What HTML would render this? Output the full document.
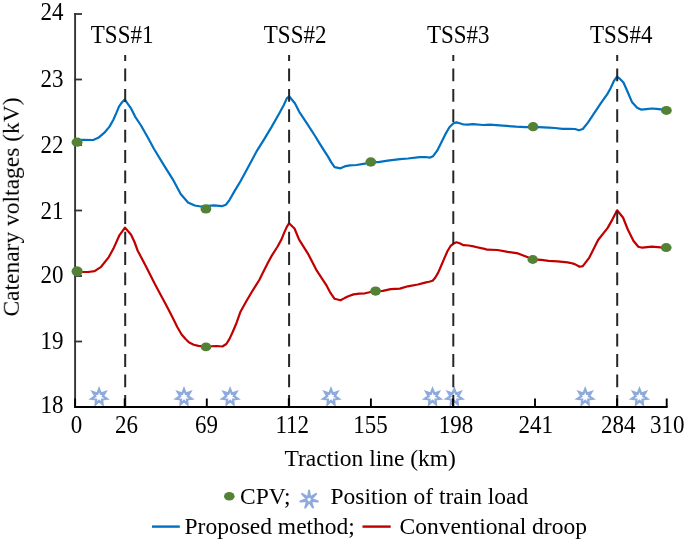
<!DOCTYPE html>
<html><head><meta charset="utf-8"><title>Catenary voltages chart</title>
<style>html,body{margin:0;padding:0;background:#fff;}body{width:685px;height:541px;overflow:hidden;font-family:"Liberation Serif",serif;}svg{display:block;}</style>
</head><body>
<svg width="685" height="541" viewBox="0 0 685 541">
<rect width="685" height="541" fill="#fff"/>
<path d="M99.10,389.10 L100.79,393.49 L105.28,392.07 L102.90,396.13 L106.80,398.76 L102.15,399.43 L102.53,404.12 L99.10,400.90 L95.67,404.12 L96.05,399.43 L91.40,398.76 L95.30,396.13 L92.92,392.07 L97.41,393.49 Z" fill="#fff" stroke="#8eaadc" stroke-width="2.3" stroke-linejoin="miter" stroke-miterlimit="10"/>
<path d="M184.00,389.10 L185.69,393.49 L190.18,392.07 L187.80,396.13 L191.70,398.76 L187.05,399.43 L187.43,404.12 L184.00,400.90 L180.57,404.12 L180.95,399.43 L176.30,398.76 L180.20,396.13 L177.82,392.07 L182.31,393.49 Z" fill="#fff" stroke="#8eaadc" stroke-width="2.3" stroke-linejoin="miter" stroke-miterlimit="10"/>
<path d="M230.10,389.10 L231.79,393.49 L236.28,392.07 L233.90,396.13 L237.80,398.76 L233.15,399.43 L233.53,404.12 L230.10,400.90 L226.67,404.12 L227.05,399.43 L222.40,398.76 L226.30,396.13 L223.92,392.07 L228.41,393.49 Z" fill="#fff" stroke="#8eaadc" stroke-width="2.3" stroke-linejoin="miter" stroke-miterlimit="10"/>
<path d="M331.00,389.10 L332.69,393.49 L337.18,392.07 L334.80,396.13 L338.70,398.76 L334.05,399.43 L334.43,404.12 L331.00,400.90 L327.57,404.12 L327.95,399.43 L323.30,398.76 L327.20,396.13 L324.82,392.07 L329.31,393.49 Z" fill="#fff" stroke="#8eaadc" stroke-width="2.3" stroke-linejoin="miter" stroke-miterlimit="10"/>
<path d="M432.50,389.10 L434.19,393.49 L438.68,392.07 L436.30,396.13 L440.20,398.76 L435.55,399.43 L435.93,404.12 L432.50,400.90 L429.07,404.12 L429.45,399.43 L424.80,398.76 L428.70,396.13 L426.32,392.07 L430.81,393.49 Z" fill="#fff" stroke="#8eaadc" stroke-width="2.3" stroke-linejoin="miter" stroke-miterlimit="10"/>
<path d="M454.30,389.10 L455.99,393.49 L460.48,392.07 L458.10,396.13 L462.00,398.76 L457.35,399.43 L457.73,404.12 L454.30,400.90 L450.87,404.12 L451.25,399.43 L446.60,398.76 L450.50,396.13 L448.12,392.07 L452.61,393.49 Z" fill="#fff" stroke="#8eaadc" stroke-width="2.3" stroke-linejoin="miter" stroke-miterlimit="10"/>
<path d="M585.20,389.10 L586.89,393.49 L591.38,392.07 L589.00,396.13 L592.90,398.76 L588.25,399.43 L588.63,404.12 L585.20,400.90 L581.77,404.12 L582.15,399.43 L577.50,398.76 L581.40,396.13 L579.02,392.07 L583.51,393.49 Z" fill="#fff" stroke="#8eaadc" stroke-width="2.3" stroke-linejoin="miter" stroke-miterlimit="10"/>
<path d="M639.50,389.10 L641.19,393.49 L645.68,392.07 L643.30,396.13 L647.20,398.76 L642.55,399.43 L642.93,404.12 L639.50,400.90 L636.07,404.12 L636.45,399.43 L631.80,398.76 L635.70,396.13 L633.32,392.07 L637.81,393.49 Z" fill="#fff" stroke="#8eaadc" stroke-width="2.3" stroke-linejoin="miter" stroke-miterlimit="10"/>
<polyline points="77.0,139.9 82.0,139.8 93.2,140.0 98.3,137.8 104.4,132.7 109.5,126.6 113.5,119.5 116.6,112.4 119.1,106.3 121.7,102.7 124.7,99.6 130.7,107.8 135.1,116.6 141.0,125.5 147.4,136.8 153.9,148.8 164.0,165.4 173.3,180.2 180.7,194.1 188.0,202.4 194.8,205.5 200.8,206.5 205.6,206.2 214.0,205.3 221.8,206.2 226.0,204.7 229.6,199.8 234.4,191.4 240.5,181.2 247.7,168.0 257.2,150.3 264.4,138.9 271.6,126.9 278.8,114.2 283.7,105.2 286.7,98.6 289.1,96.3 294.9,103.3 299.1,111.6 307.4,124.1 315.4,136.5 319.4,143.1 324.6,151.3 327.9,156.4 331.3,162.4 334.6,167.2 340.5,168.3 344.6,166.4 349.8,165.3 356.4,165.0 365.0,163.7 370.8,162.0 378.4,162.1 387.7,160.6 400.0,159.2 407.9,158.5 419.6,157.2 425.0,157.0 430.1,157.6 433.1,156.2 437.2,150.7 441.3,142.5 445.3,134.4 449.4,127.3 453.5,123.2 456.5,122.4 459.6,123.2 463.6,124.5 467.7,124.7 472.8,124.2 483.1,125.0 489.7,124.6 502.8,125.6 516.0,126.7 525.2,127.1 533.1,126.9 548.8,127.6 555.0,128.0 562.4,128.8 569.8,128.8 575.0,129.0 578.9,130.3 582.8,129.0 587.9,122.6 594.4,112.9 600.9,103.2 607.3,94.1 610.6,88.3 613.8,81.2 617.0,76.6 620.3,79.2 623.5,82.5 628.0,92.8 631.9,101.9 637.1,107.7 641.0,109.6 646.3,109.1 651.5,108.5 656.8,108.8 666.4,110.2" fill="none" stroke="#0070c0" stroke-width="2.2" stroke-linejoin="round" stroke-linecap="round"/>
<polyline points="77.1,272.0 81.7,272.0 88.1,272.0 94.6,271.1 101.1,266.8 108.8,257.1 114.0,247.4 119.2,235.7 125.0,227.6 131.1,234.8 134.5,242.0 137.6,250.5 145.9,266.2 154.2,282.8 160.6,294.8 164.8,302.6 169.0,310.4 173.2,318.8 177.4,327.3 181.6,334.5 185.8,339.3 188.8,342.3 193.7,344.7 198.5,345.9 205.9,346.5 216.5,346.0 222.4,346.5 226.3,344.0 229.5,338.9 232.8,331.7 236.6,322.7 240.5,311.7 246.3,301.3 252.8,290.3 259.3,280.0 261.5,275.6 267.9,262.7 271.8,255.6 277.6,246.5 281.5,239.4 284.1,232.9 286.7,227.1 289.0,223.3 294.5,228.5 299.1,239.6 308.4,254.4 316.8,270.7 321.7,278.1 326.8,285.9 330.5,292.9 334.6,298.8 340.5,300.3 344.6,298.1 348.3,296.3 353.5,294.4 359.4,293.7 365.0,293.3 369.7,292.2 375.6,291.1 382.8,290.9 390.7,289.2 399.9,288.6 407.8,286.3 417.9,284.5 425.0,282.6 429.1,281.7 432.6,280.7 435.2,277.7 438.2,272.6 441.3,265.5 444.3,258.4 447.4,251.3 450.4,246.2 453.5,243.6 456.5,242.3 459.6,243.3 463.6,245.2 468.7,245.5 474.8,246.7 484.6,248.9 487.3,249.7 497.5,250.0 507.7,251.9 518.0,253.4 525.3,256.3 532.8,259.3 541.3,259.9 548.6,260.9 557.4,261.4 567.6,262.4 570.0,262.8 574.8,264.1 579.6,266.8 582.8,266.1 589.3,257.6 598.1,240.0 607.7,227.9 612.6,219.1 617.1,210.3 623.0,217.5 627.8,229.5 633.4,240.8 638.3,246.7 642.3,247.7 651.9,246.7 660.7,247.4 666.4,247.7" fill="none" stroke="#c00000" stroke-width="2.2" stroke-linejoin="round" stroke-linecap="round"/>
<line x1="125.2" y1="407.7" x2="125.2" y2="55" stroke="#262626" stroke-width="2" stroke-dasharray="12.8 7.6"/>
<line x1="289.1" y1="407.7" x2="289.1" y2="55" stroke="#262626" stroke-width="2" stroke-dasharray="12.8 7.6"/>
<line x1="453.3" y1="407.7" x2="453.3" y2="55" stroke="#262626" stroke-width="2" stroke-dasharray="12.8 7.6"/>
<line x1="617.2" y1="407.7" x2="617.2" y2="55" stroke="#262626" stroke-width="2" stroke-dasharray="12.8 7.6"/>
<line x1="75.1" y1="13.1" x2="75.1" y2="408" stroke="#333" stroke-width="1.9"/>
<line x1="74.2" y1="14.0" x2="82" y2="14.0" stroke="#333" stroke-width="1.8"/>
<line x1="74.2" y1="79.5" x2="82" y2="79.5" stroke="#333" stroke-width="1.8"/>
<line x1="74.2" y1="145.0" x2="82" y2="145.0" stroke="#333" stroke-width="1.8"/>
<line x1="74.2" y1="210.5" x2="82" y2="210.5" stroke="#333" stroke-width="1.8"/>
<line x1="74.2" y1="276.0" x2="82" y2="276.0" stroke="#333" stroke-width="1.8"/>
<line x1="74.2" y1="341.5" x2="82" y2="341.5" stroke="#333" stroke-width="1.8"/>
<line x1="74.2" y1="407.0" x2="82" y2="407.0" stroke="#333" stroke-width="1.8"/>
<line x1="74.2" y1="407" x2="667.6" y2="407" stroke="#000" stroke-width="2"/>
<line x1="75.1" y1="407" x2="75.1" y2="398.5" stroke="#000" stroke-width="1.9"/>
<line x1="124.7" y1="407" x2="124.7" y2="398.5" stroke="#000" stroke-width="1.9"/>
<line x1="206.8" y1="407" x2="206.8" y2="398.5" stroke="#000" stroke-width="1.9"/>
<line x1="288.8" y1="407" x2="288.8" y2="398.5" stroke="#000" stroke-width="1.9"/>
<line x1="370.9" y1="407" x2="370.9" y2="398.5" stroke="#000" stroke-width="1.9"/>
<line x1="453.0" y1="407" x2="453.0" y2="398.5" stroke="#000" stroke-width="1.9"/>
<line x1="535.0" y1="407" x2="535.0" y2="398.5" stroke="#000" stroke-width="1.9"/>
<line x1="617.1" y1="407" x2="617.1" y2="398.5" stroke="#000" stroke-width="1.9"/>
<line x1="666.7" y1="407" x2="666.7" y2="398.5" stroke="#000" stroke-width="1.9"/>
<ellipse cx="77.05" cy="142.15" rx="5.5" ry="4.6" fill="#538135"/>
<ellipse cx="205.9" cy="208.9" rx="5.4" ry="4.7" fill="#538135"/>
<ellipse cx="370.8" cy="162" rx="5.4" ry="4.7" fill="#538135"/>
<ellipse cx="533.1" cy="126.7" rx="5.3" ry="4.6" fill="#538135"/>
<ellipse cx="666.4" cy="110.4" rx="5.4" ry="4.5" fill="#538135"/>
<ellipse cx="77.15" cy="271.35" rx="5.6" ry="5.2" fill="#538135"/>
<ellipse cx="206" cy="346.9" rx="5.3" ry="4.4" fill="#538135"/>
<ellipse cx="375.6" cy="291.1" rx="5.4" ry="4.6" fill="#538135"/>
<ellipse cx="532.8" cy="259.5" rx="5.3" ry="4.4" fill="#538135"/>
<ellipse cx="666.2" cy="247.6" rx="5.4" ry="4.5" fill="#538135"/>
<g font-family="Liberation Serif" fill="#000" style="will-change:transform">
<text transform="translate(63.5,20.3) scale(1,1.06)" font-size="23" text-anchor="end">24</text>
<text transform="translate(63.5,86.7) scale(1,1.06)" font-size="23" text-anchor="end">23</text>
<text transform="translate(63.5,152.8) scale(1,1.06)" font-size="23" text-anchor="end">22</text>
<text transform="translate(63.5,218.7) scale(1,1.06)" font-size="23" text-anchor="end">21</text>
<text transform="translate(63.5,282.8) scale(1,1.06)" font-size="23" text-anchor="end">20</text>
<text transform="translate(63.5,349.4) scale(1,1.06)" font-size="23" text-anchor="end">19</text>
<text transform="translate(63.5,412.6) scale(1,1.06)" font-size="23" text-anchor="end">18</text>
<text transform="translate(76.4,432.8) scale(1,1.06)" font-size="23" text-anchor="middle">0</text>
<text transform="translate(126.6,432.8) scale(1,1.06)" font-size="23" text-anchor="middle">26</text>
<text transform="translate(206.4,432.8) scale(1,1.06)" font-size="23" text-anchor="middle">69</text>
<text transform="translate(292.3,432.8) scale(1,1.06)" font-size="23" text-anchor="middle">112</text>
<text transform="translate(370.6,432.8) scale(1,1.06)" font-size="23" text-anchor="middle">155</text>
<text transform="translate(455.9,432.8) scale(1,1.06)" font-size="23" text-anchor="middle">198</text>
<text transform="translate(535.7,432.8) scale(1,1.06)" font-size="23" text-anchor="middle">241</text>
<text transform="translate(618.3,432.8) scale(1,1.06)" font-size="23" text-anchor="middle">284</text>
<text transform="translate(667.2,432.8) scale(1,1.06)" font-size="23" text-anchor="middle">310</text>
<text transform="translate(90.8,42.5) scale(1,1.06)" font-size="23" text-anchor="start">TSS#1</text>
<text transform="translate(263.8,42.5) scale(1,1.06)" font-size="23" text-anchor="start">TSS#2</text>
<text transform="translate(427.0,42.5) scale(1,1.06)" font-size="23" text-anchor="start">TSS#3</text>
<text transform="translate(589.9,42.5) scale(1,1.06)" font-size="23" text-anchor="start">TSS#4</text>
<text transform="translate(370.2,465.8)" font-size="23.5" text-anchor="middle">Traction line (km)</text>
<text transform="translate(18.8,207) rotate(-90)" font-size="23.5" text-anchor="middle">Catenary voltages (kV)</text>
<text transform="translate(240.0,504.0)" font-size="23.5" text-anchor="start">CPV;</text>
<text transform="translate(330.5,504.0)" font-size="23.5" text-anchor="start">Position of train load</text>
<text transform="translate(184.5,533.9)" font-size="23.5" text-anchor="start">Proposed method;</text>
<text transform="translate(399.6,533.9)" font-size="23.5" text-anchor="start">Conventional droop</text>
</g>
<ellipse cx="229.3" cy="496.2" rx="5.3" ry="4.3" fill="#538135"/>
<path d="M309.10,490.50 L310.16,497.29 L316.14,493.89 L311.49,498.95 L317.87,501.50 L311.02,501.03 L313.00,507.61 L309.10,501.95 L305.20,507.61 L307.18,501.03 L300.33,501.50 L306.71,498.95 L302.06,493.89 L308.04,497.29 Z" fill="#fff" stroke="#8eaadc" stroke-width="2.0" stroke-linejoin="round"/>
<line x1="152" y1="526.6" x2="179.8" y2="526.6" stroke="#0070c0" stroke-width="2.4"/>
<line x1="362.5" y1="526.6" x2="390.7" y2="526.6" stroke="#c00000" stroke-width="2.4"/>
</svg>
</body></html>
